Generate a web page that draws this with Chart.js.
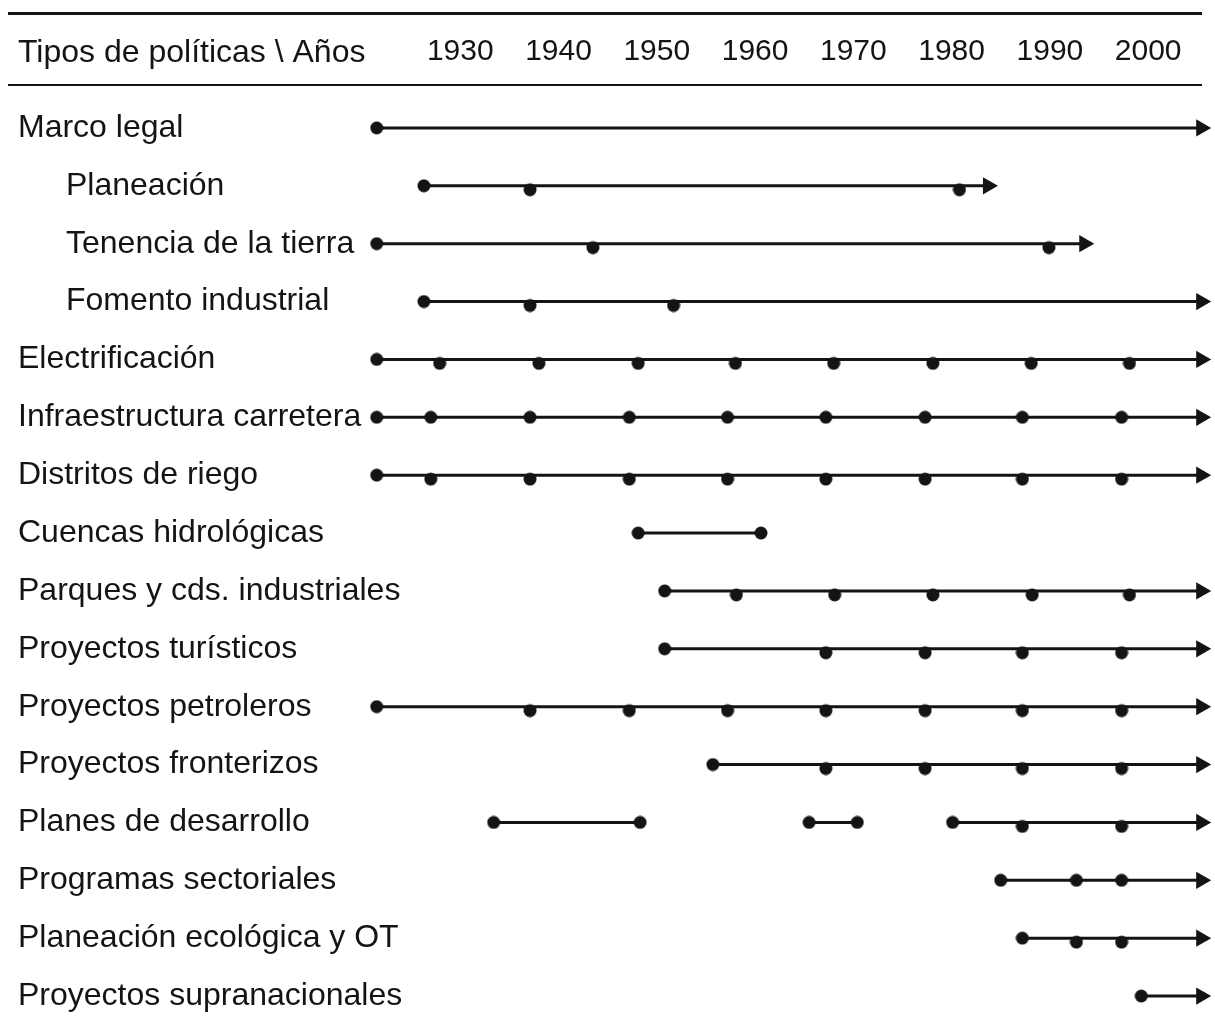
<!DOCTYPE html>
<html>
<head>
<meta charset="utf-8">
<title>Tipos de políticas</title>
<script src="https://cdn.jsdelivr.net/npm/chart.js@4.4.1/dist/chart.umd.min.js"></script>
<style>
  html, body { margin: 0; padding: 0; background: #fff; }
</style>
</head>
<body>
<canvas id="timelineChart" width="1215" height="1028"></canvas>
<script>
// rows of the table, top to bottom
const rowLabels = ['Marco legal', 'Planeación', 'Tenencia de la tierra', 'Fomento industrial',
  'Electrificación', 'Infraestructura carretera', 'Distritos de riego', 'Cuencas hidrológicas',
  'Parques y cds. industriales', 'Proyectos turísticos', 'Proyectos petroleros',
  'Proyectos fronterizos', 'Planes de desarrollo', 'Programas sectoriales',
  'Planeación ecológica y OT', 'Proyectos supranacionales'];
const subRows = [false, true, true, true, false, false, false, false,
  false, false, false, false, false, false, false, false];

const yearTicks = [1930, 1940, 1950, 1960, 1970, 1980, 1990, 2000];

// years marked with a dot on each row
const dotYears = [
  [1921.5],
  [1926.3, 1937.1, 1980.8],
  [1921.5, 1943.5, 1989.9],
  [1926.3, 1937.1, 1951.7],
  [1921.5, 1927.9, 1938.0, 1948.1, 1958.0, 1968.0, 1978.1, 1988.1, 1998.1],
  [1921.5, 1927.0, 1937.1, 1947.2, 1957.2, 1967.2, 1977.3, 1987.2, 1997.3],
  [1921.5, 1927.0, 1937.1, 1947.2, 1957.2, 1967.2, 1977.3, 1987.2, 1997.3],
  [1948.1, 1960.6],
  [1950.8, 1958.1, 1968.1, 1978.1, 1988.2, 1998.1],
  [1950.8, 1967.2, 1977.3, 1987.2, 1997.3],
  [1921.5, 1937.1, 1947.2, 1957.2, 1967.2, 1977.3, 1987.2, 1997.3],
  [1955.7, 1967.2, 1977.3, 1987.2, 1997.3],
  [1933.4, 1948.3, 1965.5, 1970.4, 1980.1, 1987.2, 1997.3],
  [1985.0, 1992.7, 1997.3],
  [1987.2, 1992.7, 1997.3],
  [1999.3]
];

// continuous periods [start, end] on each row
const lineSpans = [
  [[1921.5, 2005.4]],
  [[1926.3, 1983.7]],
  [[1921.5, 1993.5]],
  [[1926.3, 2005.4]],
  [[1921.5, 2005.4]],
  [[1921.5, 2005.4]],
  [[1921.5, 2005.4]],
  [[1948.1, 1960.6]],
  [[1950.8, 2005.4]],
  [[1950.8, 2005.4]],
  [[1921.5, 2005.4]],
  [[1955.7, 2005.4]],
  [[1933.4, 1948.3], [1965.5, 1970.4], [1980.1, 2005.4]],
  [[1985.0, 2005.4]],
  [[1987.2, 2005.4]],
  [[1999.3, 2005.4]]
];

// rows whose last period continues (arrow head), null = closed period
const arrowTips = [2005.4, 1983.7, 1993.5, 2005.4, 2005.4, 2005.4, 2005.4, null,
  2005.4, 2005.4, 2005.4, 2005.4, 2005.4, 2005.4, 2005.4, 2005.4];

// rows where the inner dots hang a bit under the line
const droppedRows = [false, true, true, true, true, false, true, false,
  true, true, true, true, true, false, true, false];

const ink = '#141414';
const fontFamily = '"Liberation Sans", Arial, sans-serif';

function makeDot(drop) {
  const c = document.createElement('canvas');
  c.width = 14;
  c.height = 14 + drop * 2;
  const g = c.getContext('2d');
  g.fillStyle = ink;
  g.beginPath();
  g.arc(7, 7 + drop * 2, 6.5, 0, Math.PI * 2);
  g.fill();
  return c;
}
const dotCentered = makeDot(0);
const dotDropped = makeDot(4);

const datasets = [];

// arrow heads
datasets.push({
  data: arrowTips.map((t, i) => t === null ? null : { x: t, y: rowLabels[i] }).filter(p => p),
  pointStyle: 'triangle',
  rotation: 90,
  pointRadius: 10,
  backgroundColor: ink,
  borderWidth: 0,
  order: 0
});

// dots
dotYears.forEach((years, i) => {
  const ends = lineSpans[i].flat();
  datasets.push({
    data: years.map(y => ({ x: y, y: rowLabels[i] })),
    pointStyle: ctx => {
      const yr = years[ctx.dataIndex];
      return (droppedRows[i] && !ends.includes(yr)) ? dotDropped : dotCentered;
    },
    order: 1
  });
});

// lines
lineSpans.forEach((spans, i) => {
  spans.forEach(s => {
    datasets.push({
      data: [{ x: s[0], y: rowLabels[i] }, { x: s[1], y: rowLabels[i] }],
      showLine: true,
      borderColor: ink,
      borderWidth: 3,
      pointRadius: 0,
      order: 2
    });
  });
});

const headerPlugin = {
  id: 'tableHeader',
  beforeDraw(chart) {
    const { ctx, chartArea } = chart;
    ctx.save();
    ctx.fillStyle = ink;
    ctx.fillRect(8, 12, 1194, 3);
    ctx.fillRect(8, chartArea.top - 15, 1194, 2);
    ctx.font = '32px ' + fontFamily;
    ctx.textBaseline = 'alphabetic';
    ctx.textAlign = 'left';
    ctx.fillText('Tipos de políticas \\ Años', 18, 62);
    ctx.restore();
  }
};

const yAxisWidth = 344;

new Chart(document.getElementById('timelineChart'), {
  type: 'scatter',
  data: { datasets: datasets },
  plugins: [headerPlugin],
  options: {
    responsive: false,
    animation: false,
    events: [],
    layout: { autoPadding: false, padding: { left: 18, right: 2, top: 0, bottom: 3 } },
    plugins: {
      legend: { display: false },
      tooltip: { enabled: false }
    },
    scales: {
      x: {
        type: 'linear',
        position: 'top',
        min: 1920,
        max: 2006.6,
        afterFit: scale => { scale.height = 99; },
        afterBuildTicks: scale => { scale.ticks = yearTicks.map(v => ({ value: v })); },
        grid: { display: false, drawTicks: false },
        border: { display: false },
        ticks: {
          color: ink,
          font: { family: fontFamily, size: 30 },
          padding: 29,
          maxRotation: 0,
          autoSkip: false,
          callback: v => String(v)
        }
      },
      y: {
        type: 'category',
        labels: rowLabels,
        offset: true,
        afterFit: scale => {
          scale.width = yAxisWidth;
          scale.paddingTop = 0;
          scale.paddingBottom = 0;
        },
        grid: { display: false, drawTicks: false },
        border: { display: false },
        ticks: {
          color: ink,
          font: { family: fontFamily, size: 32 },
          // mirrored so the long labels may run under the first dots without being clipped
          mirror: true,
          padding: -yAxisWidth,
          crossAlign: 'near',
          autoSkip: false,
          callback: (v, i) => (subRows[i] ? '\u2002\u2002\u2002' : '') + rowLabels[i]
        }
      }
    }
  }
});
</script>
</body>
</html>
